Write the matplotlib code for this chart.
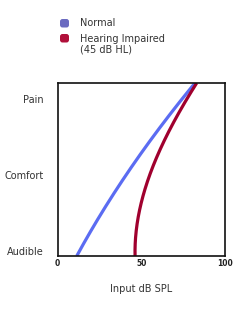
import matplotlib
matplotlib.use("Agg")
import matplotlib.pyplot as plt
from matplotlib.patches import FancyBboxPatch
import numpy as np

# Data
normal_x = [11.5, 18.4, 26.4, 34.3, 40.5, 46.3, 53.3, 63.2, 73.1, 82.1]
normal_y = [0, 13.1, 24.7, 36.2, 46.0, 55.5, 64.2, 76.7, 88.3, 100]
impaired_x = [46.3, 47.3, 49.3, 52.2, 56.0, 60.2, 65.2, 71.2, 77.1, 83.1]
impaired_y = [0, 13.1, 26.6, 40.1, 50.0, 59.4, 69.0, 80.5, 90.2, 100]
y_tick_pos = [3, 47, 91]
y_tick_labels = ["Audible", "Comfort", "Pain"]
x_ticks = [0, 50, 100]
legend_labels = ["Normal", "Hearing Impaired\n(45 dB HL)"]


def smooth(xs, ys, deg):
    # least-squares smooth curve x(y) through the read points
    w = np.ones(len(xs))
    w[0] = w[-1] = 10
    c = np.polyfit(ys, xs, deg, w=w)
    yy = np.linspace(min(ys), max(ys), 200)
    return np.polyval(c, yy), yy


W, H = 250, 324
fig = plt.figure(figsize=(W / 100, H / 100), dpi=100)
ax = fig.add_axes([57.5 / W, 1 - 256 / H, 167.5 / W, 173 / H])

txt = "#333333"

nx, ny = smooth(normal_x, normal_y, 2)
ix, iy = smooth(impaired_x, impaired_y, 3)
ax.plot(nx, ny, color="#5b6cf2", lw=2.3, solid_capstyle="butt")
ax.plot(ix, iy, color="#a0002e", lw=2.3, solid_capstyle="butt")

ax.set_xlim(0, 100)
ax.set_ylim(0, 100)
ax.set_xticks(x_ticks)
ax.set_xticklabels([str(v) for v in x_ticks], fontsize=5.5, fontweight="bold", color="#222222")
ax.set_yticks(y_tick_pos)
ax.set_yticklabels(y_tick_labels, fontsize=7, color=txt)
ax.tick_params(length=0)
ax.tick_params(axis="y", pad=10)
ax.tick_params(axis="x", pad=2)
for s in ax.spines.values():
    s.set_linewidth(1.2)
    s.set_color("#111111")
ax.set_xlabel("Input dB SPL", fontsize=7, color=txt, labelpad=12)

# legend
colors = ["#6b6bc0", "#b0103a"]
ys_px = [23, 38]
for c, ypx in zip(colors, ys_px):
    p = FancyBboxPatch((60 / 100, (H - ypx - 4.5) / 100), 0.09, 0.085,
                       boxstyle="round,pad=0,rounding_size=0.025",
                       transform=fig.dpi_scale_trans, facecolor=c, edgecolor="none")
    fig.patches.append(p)
fig.text(80 / W, 1 - 23 / H, legend_labels[0], fontsize=7, color=txt, va="center")
fig.text(80 / W, 1 - 34 / H, legend_labels[1], fontsize=7, color=txt, va="top", linespacing=1.0)

fig.savefig("out.png", dpi=100)
